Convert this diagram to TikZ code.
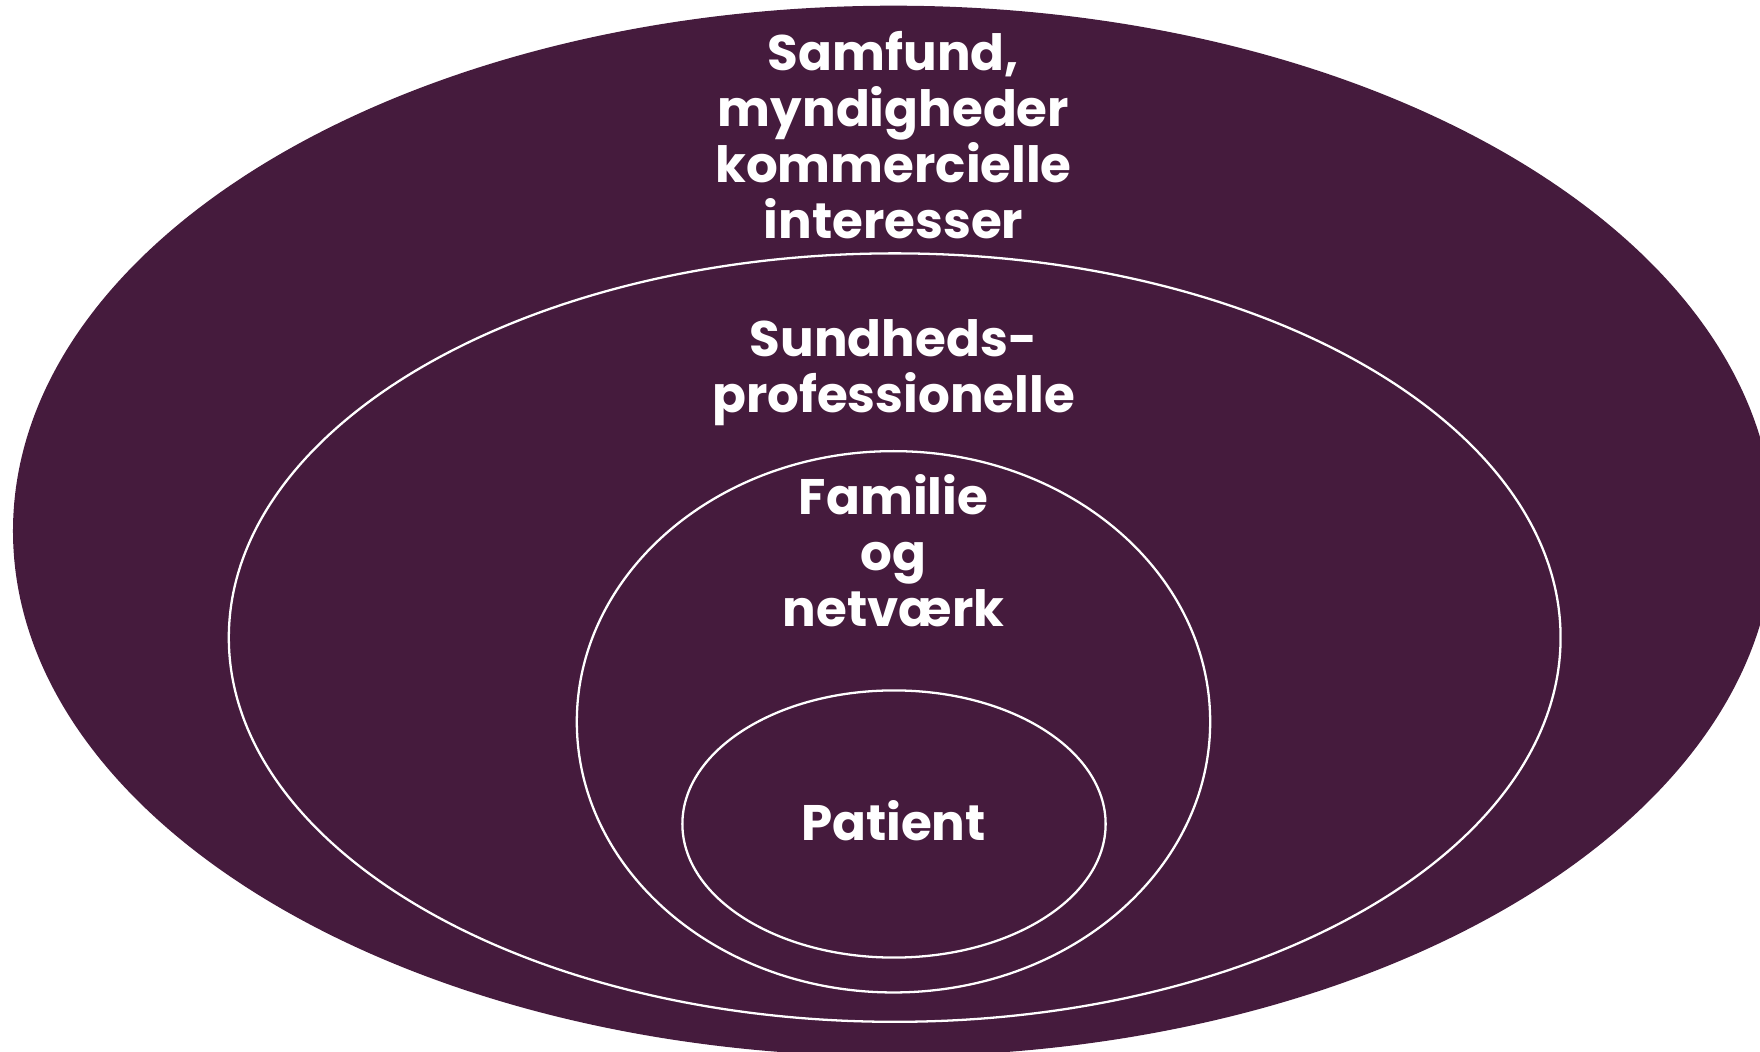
\documentclass[tikz,border=0pt]{standalone}
\usepackage{fontspec}
\setmainfont{Poppins}
\usetikzlibrary{shapes.geometric}
\definecolor{plum}{HTML}{451B3D}

\begin{document}
\begin{tikzpicture}[x=0.01cm, y=-0.01cm,
  ring/.style = {ellipse, draw=white, line width=0.65pt, inner sep=0pt},
  lbl/.style = {text=white, font=\fontsize{14.2}{15.9}\selectfont\bfseries, align=center}]
\useasboundingbox (0,0) rectangle (1760,1052);
\clip (0,0) rectangle (1760,1052);
% rings, outside in
\node[ellipse, fill=plum, inner sep=0pt, minimum width=17.6cm, minimum height=10.5cm] (samfund) at (893.5,531) {};
\node[ring, minimum width=13.31cm, minimum height=7.68cm] (sundhed) at (894.7,637.6) {};
\node[ring, minimum width=6.33cm, minimum height=5.41cm] (familie) at (893.5,721.8) {};
\node[ring, minimum width=4.23cm, minimum height=2.67cm] (patient) at (894,824) {};
% labels
\node[lbl] (samfund-txt) at (893.5,135) {Samfund,\\myndigheder\\kommercielle\\interesser};
\node[lbl] (sundhed-txt) at (893.5,373) {Sundheds-\\professionelle};
\node[lbl] (familie-txt) at (893.5,551) {Familie\\og\\netværk};
\node[lbl] (patient-txt) at (893.5,821) {Patient};
\end{tikzpicture}
\end{document}
